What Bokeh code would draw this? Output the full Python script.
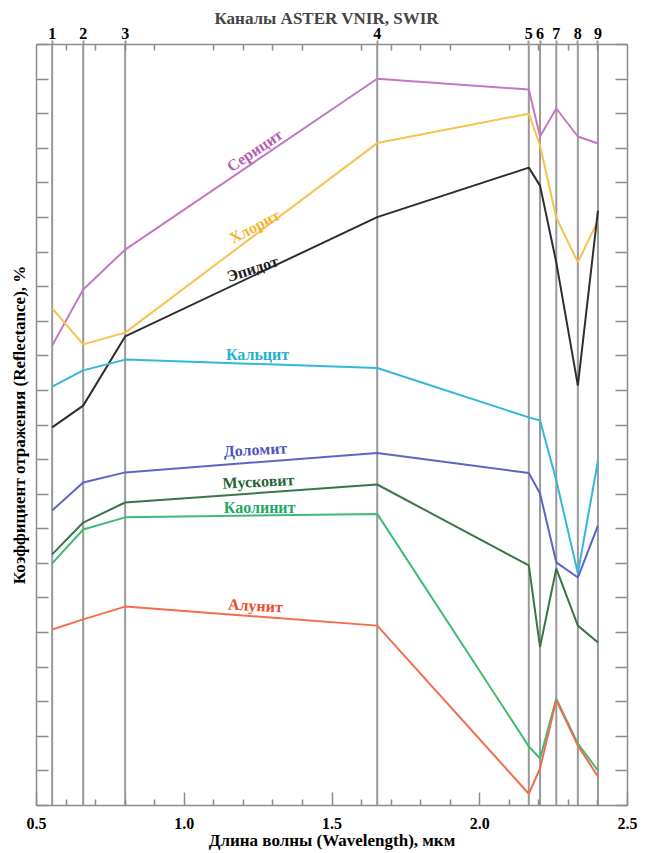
from bokeh.plotting import figure
from bokeh.models import Range1d, LinearAxis, FixedTicker, Span, NumeralTickFormatter, ColumnDataSource
from bokeh.core.properties import value
from bokeh.embed import file_html
from bokeh.resources import INLINE
import math

# ASTER VNIR/SWIR band centres (µm) and their numbers
bands = [0.553, 0.658, 0.800, 1.653, 2.166, 2.204, 2.259, 2.332, 2.400]
band_labels = ["1", "2", "3", "4", "5", "6", "7", "8", "9"]

# reflectance (arbitrary offset units, one unit = one y tick)
sericite = [13.30, 14.92, 16.07, 21.01, 20.70, 19.34, 20.15, 19.34, 19.14]
chlorite = [14.37, 13.33, 13.67, 19.15, 20.00, 19.08, 17.00, 15.70, 16.91]
epidote = [10.93, 11.56, 13.56, 17.01, 18.44, 17.92, 15.70, 12.14, 17.20]
calcite = [12.11, 12.58, 12.89, 12.65, 11.22, 11.13, 9.40, 6.71, 9.97]
dolomite = [8.53, 9.34, 9.63, 10.19, 9.61, 9.02, 7.03, 6.59, 8.09]
muscovite = [7.26, 8.18, 8.76, 9.28, 6.94, 4.58, 6.85, 5.20, 4.71]
kaolinite = [7.00, 7.98, 8.33, 8.43, 1.71, 1.36, 3.09, 1.79, 1.01]
alunite = [5.09, 5.38, 5.75, 5.20, 0.34, 1.07, 3.04, 1.73, 0.84]

series = [sericite, chlorite, epidote, calcite, dolomite, muscovite, kaolinite, alunite]
line_colors = ["#c478c4", "#f7c24e", "#2e2e2e", "#33b8d8", "#5e63c6", "#3a7548", "#3fbb76", "#f36d4c"]

label_names = ["Серицит", "Хлорит", "Эпидот", "Кальцит", "Доломит", "Мусковит", "Каолинит", "Алунит"]
label_x = [1.238, 1.238, 1.231, 1.248, 1.241, 1.251, 1.255, 1.241]
label_y = [18.94, 16.74, 15.52, 13.04, 10.29, 9.37, 8.62, 5.78]
label_angle_deg = [34, 28, 18, 0, 3, 3, 0, -3]
label_colors = ["#b160b1", "#f2b435", "#1e1e1e", "#1fb0d2", "#4f55ba", "#1f6633", "#1fa862", "#ee4b2b"]

x_major = [0.5, 1.0, 1.5, 2.0, 2.5]
x_minor = [0.6, 0.7, 0.8, 0.9, 1.1, 1.2, 1.3, 1.4, 1.6, 1.7, 1.8, 1.9, 2.1, 2.2, 2.3, 2.4]
y_ticks = list(range(0, 23))

FONT = "Liberation Serif"
GREY = "#8c8c8c"

p = figure(width=645, height=853, x_range=Range1d(0.5, 2.5), y_range=Range1d(0, 22),
           output_backend="svg", toolbar_location=None,
           x_axis_location=None, y_axis_location=None,
           min_border_left=36, min_border_right=18, min_border_top=44, min_border_bottom=48,
           title="Каналы ASTER  VNIR, SWIR")
p.title.align = "left"
p.title.offset = 178
p.title.text_font = FONT
p.title.text_font_style = "bold"
p.title.text_font_size = "17px"
p.title.standoff = -7
p.xgrid.visible = False
p.ygrid.visible = False
p.outline_line_color = GREY
p.outline_line_width = 1.5
p.background_fill_color = "white"
p.border_fill_color = "white"

# axes
xb = LinearAxis(ticker=FixedTicker(ticks=x_major, minor_ticks=x_minor),
                formatter=NumeralTickFormatter(format="0.0"),
                axis_label="Длина волны (Wavelength), мкм")
xt = LinearAxis(ticker=FixedTicker(ticks=bands, minor_ticks=x_minor),
                major_label_overrides={b: s for b, s in zip(bands, band_labels)})
yl = LinearAxis(ticker=FixedTicker(ticks=y_ticks), axis_label="Коэффициент отражения (Reflectance), %")
yr = LinearAxis(ticker=FixedTicker(ticks=y_ticks))

for ax in (xb, xt, yl, yr):
    ax.axis_line_color = None
    ax.major_tick_line_color = GREY
    ax.minor_tick_line_color = GREY
    ax.major_tick_line_width = 1.5
    ax.minor_tick_line_width = 1.5
    ax.major_label_text_font = FONT
    ax.major_label_text_font_style = "bold"
    ax.major_label_text_color = "black"
    ax.axis_label_text_font = FONT
    ax.axis_label_text_font_style = "bold"
    ax.axis_label_text_font_size = "17px"
    ax.axis_label_text_color = "black"

xb.major_tick_in = 13
xb.major_tick_out = 0
xb.minor_tick_in = 6
xb.minor_tick_out = 0
xb.major_label_text_font_size = "16px"
xb.major_label_standoff = 12
xb.axis_label_standoff = -1

xt.major_tick_in = 0
xt.major_tick_out = 4
xt.major_tick_line_width = 2
xt.major_tick_line_color = "#999999"
xt.minor_tick_in = 6
xt.minor_tick_out = 0
xt.major_label_text_font_size = "16px"
xt.major_label_standoff = 2

for ax in (yl, yr):
    ax.major_tick_in = 12
    ax.major_tick_out = 0
    ax.minor_tick_line_color = None
    ax.major_label_text_color = None
    ax.major_label_standoff = 0
yl.axis_label_standoff = 8

p.add_layout(xb, "below")
p.add_layout(xt, "above")
p.add_layout(yl, "left")
p.add_layout(yr, "right")

# band lines
for b in bands:
    p.add_layout(Span(location=b, dimension="height", line_color="#999999", line_width=2, level="underlay"))

# spectra
for vals, col in zip(series, line_colors):
    p.line(bands, vals, line_color=col, line_width=2)

src = ColumnDataSource(dict(x=label_x, y=label_y, text=label_names,
                            angle=[math.radians(a) for a in label_angle_deg], color=label_colors))
p.text(x="x", y="y", text="text", angle="angle", text_color="color", source=src,
       text_font=value(FONT), text_font_style="bold", text_font_size="16px",
       text_align="center", text_baseline="middle")

open("out.html", "w").write(file_html(p, INLINE))
